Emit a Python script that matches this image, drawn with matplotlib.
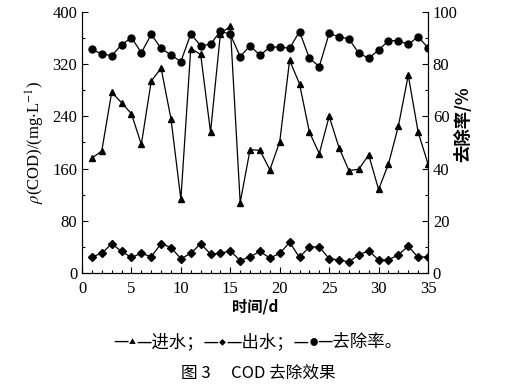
import numpy as np
import matplotlib
matplotlib.use('Agg')
import matplotlib.pyplot as plt
from matplotlib.ticker import MultipleLocator
from matplotlib.offsetbox import TextArea, HPacker, AnchoredOffsetbox

plt.rcParams['font.family'] = ['Liberation Serif', 'Noto Sans CJK SC']
plt.rcParams['mathtext.fontset'] = 'stix'

days = np.arange(1, 36)
influent = [176, 187, 277, 261, 244, 197, 294, 314, 236, 113,
            344, 335, 216, 367, 378, 108, 189, 188, 158, 201,
            326, 290, 216, 183, 240, 192, 157, 159, 181, 128,
            167, 225, 303, 216, 167]
effluent = [25, 30, 45, 33, 24, 30, 25, 45, 39, 22,
            30, 45, 29, 30, 34, 19, 25, 33, 23, 30,
            47, 24, 40, 40, 22, 20, 17, 28, 34, 20,
            20, 28, 41, 24, 25]
removal = [85.7, 83.9, 83.3, 87.4, 90.2, 84.4, 91.4, 86.1, 83.5, 81.0,
           91.6, 87.1, 87.6, 92.7, 91.4, 82.9, 87.1, 83.4, 86.5, 86.6,
           86.1, 92.5, 82.3, 79.1, 91.8, 90.5, 89.7, 84.2, 82.3, 85.4,
           89.0, 89.0, 87.6, 90.5, 86.3]
legend_parts = [('—', 12.5), ('▲', 5), ('—进水；—', 12.5), ('◆', 5),
                ('—出水；—', 12.5), ('●', 6), ('—去除率。', 12.5)]

cjk = ['Noto Sans CJK SC', 'DejaVu Sans']

fig = plt.figure(figsize=(5.11, 3.88), dpi=100)
ax = fig.add_axes([0.1605, 0.2964, 0.6771, 0.6727])
ax2 = ax.twinx()

ax.plot(days, influent, '-^', color='black', lw=0.9, ms=4.5)
ax.plot(days, effluent, '-D', color='black', lw=0.9, ms=4)
ax2.plot(days, removal, '-o', color='black', lw=0.9, ms=5)

ax.set_xlim(0, 35)
ax.set_ylim(0, 400)
ax2.set_ylim(0, 100)
ax.xaxis.set_major_locator(MultipleLocator(5))
ax.xaxis.set_minor_locator(MultipleLocator(1))
ax.yaxis.set_major_locator(MultipleLocator(80))
ax.yaxis.set_minor_locator(MultipleLocator(40))
ax2.yaxis.set_major_locator(MultipleLocator(20))
ax2.yaxis.set_minor_locator(MultipleLocator(10))

for a in (ax, ax2):
    a.spines['top'].set_visible(False)
    a.tick_params(which='both', direction='in', labelsize=12, width=0.8)
    a.tick_params(which='major', length=4)
    a.tick_params(which='minor', length=2.5)
ax.tick_params(axis='x', pad=6)

ax.set_ylabel(r'$\rho$(COD)/(mg$\cdot$L$^{-1}$)', fontsize=12, labelpad=4)
ax.set_xlabel('时间/d', family=cjk, fontsize=11, fontweight='bold', labelpad=1)
ax2.set_ylabel('去除率/%', family=cjk, fontsize=12.5, fontweight='bold')
ax2.yaxis.set_label_coords(1.075, 0.57)

# legend line under the chart, built from pieces so the markers can be small
pieces = [TextArea(s, textprops=dict(family=cjk, fontsize=fs, va='baseline'))
          for s, fs in legend_parts]
row = HPacker(children=pieces, align='center', pad=0, sep=0)
box = AnchoredOffsetbox(loc='center', child=row, frameon=False,
                        bbox_to_anchor=(0.505, 0.118),
                        bbox_transform=fig.transFigure, borderpad=0, pad=0)
fig.add_artist(box)

fig.text(0.505, 0.038, '图 3　 COD 去除效果', family=cjk,
         fontsize=12, ha='center', va='center')

fig.savefig('out.png', dpi=100)
